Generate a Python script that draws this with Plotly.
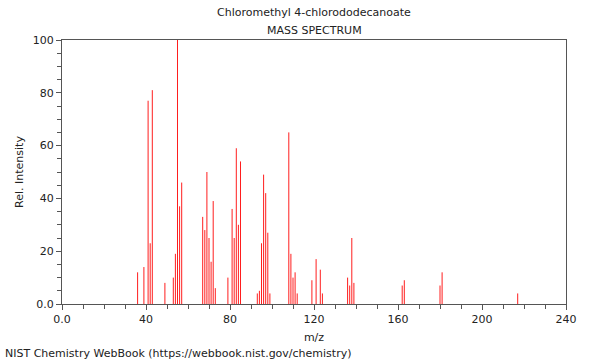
import plotly.graph_objects as go

mz = [36, 39, 41, 42, 43, 49, 53, 54, 55, 56, 57,
      67, 68, 69, 70, 71, 72, 73, 79, 81, 82, 83, 84, 85,
      93, 94, 95, 96, 97, 98, 99,
      108, 109, 110, 111, 112, 119, 121, 123, 124,
      136, 137, 138, 139, 162, 163, 180, 181, 217]
intensity = [12, 14, 77, 23, 81, 8, 10, 19, 100, 37, 46,
             33, 28, 50, 25, 16, 39, 6, 10, 36, 25, 59, 30, 54,
             4, 5, 23, 49, 42, 27, 4,
             65, 19, 10, 12, 4, 9, 17, 13, 4,
             10, 7, 25, 8, 7, 9, 7, 12, 4]

x_ticks = [0, 40, 80, 120, 160, 200, 240]
x_labels = ["0.0", "40", "80", "120", "160", "200", "240"]
y_ticks = [0, 20, 40, 60, 80, 100]
y_labels = ["0.0", "20", "40", "60", "80", "100"]

xs, ys = [], []
for m, v in zip(mz, intensity):
    xs += [m, m, None]
    ys += [0, v, None]

fig = go.Figure()
fig.add_trace(go.Scatter(x=xs, y=ys, mode="lines",
                         line=dict(color="rgb(255,30,30)", width=1),
                         hoverinfo="skip", showlegend=False))

W, H = 600, 360
L, T = 62, 40
R = W - 566
B = H - 304
font = dict(family="DejaVu Sans", size=11, color="#222")
axis_common = dict(showgrid=False, zeroline=False, showline=True, mirror=True,
                   linecolor="#555", linewidth=1, ticks="outside", ticklen=5,
                   tickcolor="#555", tickfont=font, automargin=False)
fig.update_layout(
    width=W, height=H,
    margin=dict(l=L, r=R, t=T, b=B, autoexpand=False),
    paper_bgcolor="white", plot_bgcolor="white",
    font=font, hovermode=False,
    xaxis=dict(range=[0, 240], tickvals=x_ticks, ticktext=x_labels,
               title=dict(text="m/z", font=font, standoff=8),
               minor=dict(dtick=10, ticks="outside", ticklen=4, tickcolor="#555"),
               **axis_common),
    yaxis=dict(range=[0, 100], tickvals=y_ticks, ticktext=y_labels,
               title=dict(text="Rel. Intensity", font=font, standoff=6),
               minor=dict(dtick=5, ticks="outside", ticklen=4, tickcolor="#555"),
               **axis_common),
)

pw, ph = W - L - R, H - T - B
def px_to_paper(px, py):
    return (px - L) / pw, (H - B - py) / ph

x1, y1 = px_to_paper(314, 13)
x2, y2 = px_to_paper(314, 30)
x3, y3 = px_to_paper(3, 353)
fig.add_annotation(text="Chloromethyl 4-chlorododecanoate", x=x1, y=y1,
                   xref="paper", yref="paper", xanchor="center", yanchor="middle",
                   showarrow=False, font=font)
fig.add_annotation(text="MASS SPECTRUM", x=x2, y=y2,
                   xref="paper", yref="paper", xanchor="center", yanchor="middle",
                   showarrow=False, font=font)
fig.add_annotation(text="NIST Chemistry WebBook (https://webbook.nist.gov/chemistry)",
                   x=x3, y=y3, xref="paper", yref="paper", xanchor="left",
                   yanchor="middle", showarrow=False, font=font)
fig.write_html("out.html", config={"displayModeBar": False},
               post_script="document.body.style.margin='0';document.body.style.overflow='hidden';")
